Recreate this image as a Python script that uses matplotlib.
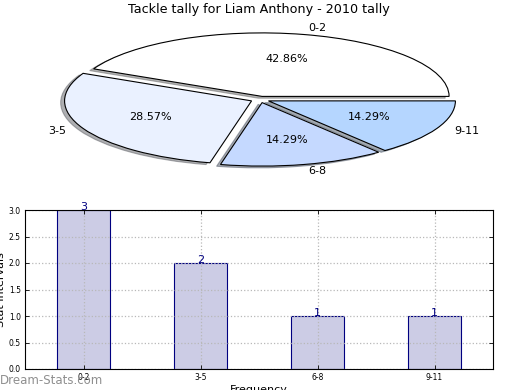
import matplotlib
matplotlib.use("Agg")
import matplotlib.pyplot as plt

title = "Tackle tally for Liam Anthony - 2010 tally"
categories = ["0-2", "3-5", "6-8", "9-11"]
counts = [3, 2, 1, 1]
pie_colors = ["#ffffff", "#eaf1ff", "#c5d9ff", "#b5d6ff"]
explode = [0.05, 0.05, 0.05, 0.05]
yticks = [0.0, 0.5, 1.0, 1.5, 2.0, 2.5, 3.0]

W, H = 520, 390
fig = plt.figure(figsize=(W / 100, H / 100), dpi=100)

# ---- pie ----
top_px, bot_px = 0, 190
axp = fig.add_axes([0, (H - bot_px) / H, 1, (bot_px - top_px) / H])
wedges, texts, autotexts = axp.pie(
    counts, labels=categories, colors=pie_colors, explode=explode,
    autopct="%1.2f%%", shadow={"ox": -0.015, "oy": -0.02, "shade": 0.6},
    startangle=0,
    wedgeprops=dict(edgecolor="black", linewidth=0.8),
    textprops=dict(fontsize=8))
axp.set_aspect("auto")
cx, cy, rx, ry = 260, 99.5, 187, 63.5
axp.set_xlim(-cx / rx, (W - cx) / rx)
axp.set_ylim(-(bot_px - cy) / ry, (cy - top_px) / ry)
axp.set_axis_off()
fig.text(259 / W, 1 - 10 / H, title, ha="center", va="center", fontsize=9.2)

# ---- bars ----
axb = fig.add_axes([25 / W, (H - 369) / H, 468 / W, 159 / H])
x = list(range(len(categories)))
axb.bar(x, counts, width=0.45, color="#ccccE5", edgecolor="#000080", linewidth=0.8, zorder=1)
for xi, v in zip(x, counts):
    axb.text(xi, v - 0.04, str(v), ha="center", va="bottom", fontsize=8,
             color="#000080", zorder=4)
axb.set_xlim(-0.5, 3.5)
axb.set_ylim(0, 3)
axb.set_xticks(x)
axb.set_xticklabels(categories, fontsize=5.5)
axb.set_yticks(yticks)
axb.set_yticklabels([f"{t:.1f}" for t in yticks], fontsize=5.5)
axb.tick_params(direction="in", length=3, top=True, right=True, width=0.6, pad=3)
axb.grid(True, linestyle=":", color="#b8b8b8", linewidth=0.9, zorder=2)
axb.set_axisbelow(False)
for sp in axb.spines.values():
    sp.set_zorder(3)
axb.set_xlabel("Frequency", fontsize=8, labelpad=2)
axb.set_ylabel("Stat Intervals", fontsize=8, labelpad=2)
fig.text(0, 1 - 381 / H, "Dream-Stats.com", ha="left", va="center", fontsize=8.5,
         color="#8f8f8f", zorder=10)

fig.savefig("out.png", dpi=100)
